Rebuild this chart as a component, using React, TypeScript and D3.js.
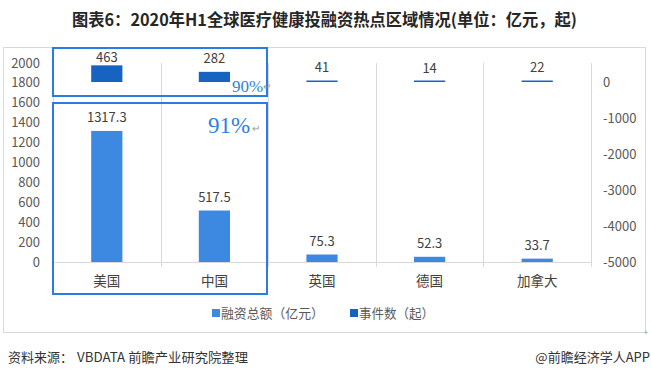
import React from "react";
import * as d3 from "d3";

const categories = ["美国", "中国", "英国", "德国", "加拿大"];
const funding = [1317.3, 517.5, 75.3, 52.3, 33.7];
const events = [463, 282, 41, 14, 22];
const leftTicks = [0, 200, 400, 600, 800, 1000, 1200, 1400, 1600, 1800, 2000];
const rightTicks = [0, -1000, -2000, -3000, -4000, -5000];
const legendLabels = ["融资总额（亿元）", "事件数（起）"];

const W = 651, H = 378;
const plotL = 53, plotR = 591, plotT = 63, plotB = 262;
const FONT = "'Noto Sans CJK SC', 'Noto Sans', sans-serif";
const C_FUND = "#3d88e0";
const C_EVT = "#1763c2";
const C_BOX = "#2b7be6";
const C_TXT = "#404040";

export default function App() {
  const x = d3.scaleBand<string>().domain(categories).range([plotL, plotR]).paddingInner(0).paddingOuter(0);
  const yL = d3.scaleLinear().domain([0, 2000]).range([plotB, plotT]);
  const yR = d3.scaleLinear().domain([-5000, 528]).range([plotB, plotT]);
  const bw = x.bandwidth() * 0.29;
  const bounds = categories.map((c) => x(c)!).concat([plotR]);

  return (
    <svg width={W} height={H} style={{ position: "absolute", left: 0, top: 0, background: "#fff" }} fontFamily={FONT}>
      <rect x={0} y={0} width={W} height={H} fill="#fff" />
      <text x={72} y={26} fontSize={16.5} fontWeight="bold" fill="#262626" textLength={505} lengthAdjust="spacingAndGlyphs">
        图表6：2020年H1全球医疗健康投融资热点区域情况(单位：亿元，起)
      </text>
      <rect x={3.5} y={47.5} width={642} height={285} fill="none" stroke="#d9d9d9" strokeWidth={1} />
      <text x={646} y={332} dy="0.35em" textAnchor="middle" fontSize={8} fill="#999">+</text>

      {/* vertical category gridlines */}
      {bounds.map((b, i) => (
        <line key={"g" + i} x1={Math.round(b) + 0.5} x2={Math.round(b) + 0.5} y1={plotT} y2={plotB + 5} stroke="#d9d9d9" strokeWidth={1} />
      ))}
      <line x1={plotL} x2={plotR} y1={plotB + 0.5} y2={plotB + 0.5} stroke="#d9d9d9" strokeWidth={1} />

      {/* left axis */}
      {leftTicks.map((t) => (
        <text key={"l" + t} x={40} y={yL(t)} dy="0.35em" textAnchor="end" fontSize={13} fill="#595959">
          {t}
        </text>
      ))}
      {/* right axis */}
      {rightTicks.map((t) => (
        <text key={"r" + t} x={603} y={yR(t)} dy="0.35em" textAnchor="start" fontSize={13} fill="#595959">
          {t}
        </text>
      ))}

      {/* funding bars */}
      {categories.map((c, i) => {
        const cx = x(c)! + x.bandwidth() / 2;
        const top = yL(funding[i]);
        return (
          <g key={"f" + c}>
            <rect x={cx - bw / 2} y={top} width={bw} height={plotB - top} fill={C_FUND} />
            <text x={cx} y={top - 13.5} dy="0.35em" textAnchor="middle" fontSize={13} fill={C_TXT}>
              {funding[i]}
            </text>
          </g>
        );
      })}
      {/* event bars */}
      {categories.map((c, i) => {
        const cx = x(c)! + x.bandwidth() / 2;
        const top = yR(events[i]);
        const y0 = yR(0);
        const h = Math.max(y0 - top, 1.5);
        const ly = Math.max(top - 13.5, 57);
        return (
          <g key={"e" + c}>
            <rect x={cx - bw / 2} y={y0 - h} width={bw} height={h} fill={C_EVT} />
            <text x={cx} y={ly} dy="0.35em" textAnchor="middle" fontSize={13} fill={C_TXT}>
              {events[i]}
            </text>
          </g>
        );
      })}

      {/* category labels */}
      {categories.map((c) => (
        <text key={"c" + c} x={x(c)! + x.bandwidth() / 2} y={281} dy="0.35em" textAnchor="middle" fontSize={13.5} fill={C_TXT}>
          {c}
        </text>
      ))}

      {/* highlight boxes */}
      <rect x={53} y={48} width={214} height={48} fill="none" stroke={C_BOX} strokeWidth={2} />
      <rect x={53} y={103} width={214} height={191} fill="none" stroke={C_BOX} strokeWidth={2} />
      <text x={232} y={92} fontSize={17} fill="#2f7fe0" fontFamily="'Liberation Serif', serif">90%</text>
      <text x={263} y={90} fontSize={10} fill="#999">↵</text>
      <text x={208} y={133} fontSize={23} fill="#2f7fe0" fontFamily="'Liberation Serif', serif">91%</text>
      <text x={252} y={132} fontSize={10} fill="#999">↵</text>

      {/* legend */}
      <rect x={212} y={309} width={8} height={8} fill={C_FUND} />
      <text x={221} y={313} dy="0.35em" fontSize={13} fill="#595959" textLength={103} lengthAdjust="spacingAndGlyphs">{legendLabels[0]}</text>
      <rect x={350} y={309} width={8} height={8} fill={C_EVT} />
      <text x={359} y={313} dy="0.35em" fontSize={13} fill="#595959" textLength={75} lengthAdjust="spacingAndGlyphs">{legendLabels[1]}</text>

      {/* footer */}
      <text x={8} y={357} dy="0.35em" fontSize={13} fill="#333">资料来源：</text>
      <text x={77} y={357} dy="0.35em" fontSize={13} fill="#333" textLength={171} lengthAdjust="spacingAndGlyphs">VBDATA 前瞻产业研究院整理</text>
      <text x={650} y={357} dy="0.35em" textAnchor="end" fontSize={13} fill="#333">@前瞻经济学人APP</text>
    </svg>
  );
}
